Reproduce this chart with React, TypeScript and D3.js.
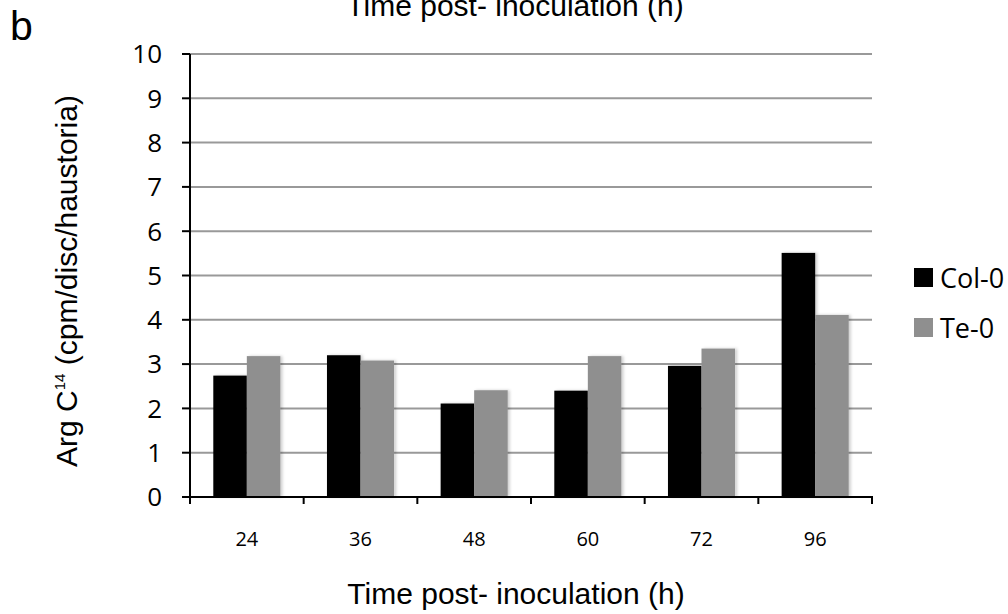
import React from 'react';
import * as d3 from 'd3';

// hours post-inoculation
const categories = ['24', '36', '48', '60', '72', '96'];
const seriesNames = ['Col-0', 'Te-0'];
const col0 = [2.74, 3.2, 2.11, 2.4, 2.96, 5.51];
const te0 = [3.18, 3.08, 2.41, 3.18, 3.35, 4.11];
const yTicks = [0, 1, 2, 3, 4, 5, 6, 7, 8, 9, 10];
const colors = ['#000000', '#8f8f8f'];

const width = 1008;
const height = 614;
const margin = { left: 190, right: 136, top: 54, bottom: 117 };

export default function App() {
  const innerW = width - margin.left - margin.right;
  const y = d3.scaleLinear().domain([0, 10]).range([height - margin.bottom, margin.top]);
  const x0 = d3.scaleBand()
    .domain(categories)
    .range([margin.left, margin.left + innerW])
    .paddingInner(0.41)
    .paddingOuter(0.205);
  const x1 = d3.scaleBand().domain(seriesNames).range([0, x0.bandwidth()]);
  const series = [col0, te0];
  const step = x0.step();
  const bounds = d3.range(categories.length + 1).map(i => margin.left + i * step);
  const baseY = y(0);
  const sans = "'Liberation Sans', Arial, sans-serif";
  const calib = "'Open Sans', sans-serif";

  return (
    <div style={{ position: 'fixed', left: 0, top: 0 }}>
      <svg width={width} height={height} style={{ display: 'block', background: '#fff' }}>
        <defs>
          <filter id="shadow" x="-20%" y="-5%" width="140%" height="110%">
            <feDropShadow dx="2" dy="0" stdDeviation="1.5" floodColor="#000" floodOpacity="0.2" />
          </filter>
        </defs>

        <text x={515} y={16} fontFamily={sans} fontSize={30} textAnchor="middle">Time post- inoculation (h)</text>
        <text x={10} y={40} fontFamily={sans} fontSize={41}>b</text>

        {/* gridlines */}
        {yTicks.filter(t => t > 0).map(t => (
          <line key={t} x1={margin.left} x2={margin.left + innerW} y1={y(t)} y2={y(t)} stroke="#999" strokeWidth={2} />
        ))}

        {/* bars */}
        {categories.map((c, i) => (
          <g key={c} transform={`translate(${x0(c)},0)`}>
            {seriesNames.map((s, j) => (
              <rect key={s} x={x1(s)} y={y(series[j][i])} width={x1.bandwidth()} height={baseY - y(series[j][i])}
                fill={colors[j]} filter="url(#shadow)" />
            ))}
          </g>
        ))}

        {/* y axis */}
        <line x1={margin.left} x2={margin.left} y1={y(10)} y2={baseY + 1} stroke="#000" strokeWidth={2} />
        {yTicks.map(t => (
          <g key={t}>
            <line x1={margin.left - 8} x2={margin.left} y1={y(t)} y2={y(t)} stroke="#000" strokeWidth={2} />
            <text x={162} y={y(t)} dy="0.36em" fontFamily={calib} fontSize={26} textAnchor="end">{t}</text>
          </g>
        ))}

        {/* x axis */}
        <line x1={margin.left - 8} x2={margin.left + innerW + 1} y1={baseY} y2={baseY} stroke="#000" strokeWidth={2} />
        {bounds.map((b, i) => (
          <line key={i} x1={b} x2={b} y1={baseY} y2={baseY + 7} stroke="#000" strokeWidth={2} />
        ))}
        {categories.map(c => (
          <text key={c} x={x0(c)! + x0.bandwidth() / 2} y={546} fontFamily={calib} fontSize={20} textAnchor="middle">{c}</text>
        ))}

        <text x={516} y={604} fontFamily={sans} fontSize={30} textAnchor="middle">Time post- inoculation (h)</text>

        <text transform={`translate(77,281) rotate(-90)`} fontFamily={sans} fontSize={30} textAnchor="middle">
          Arg C<tspan fontSize={15} dy={-12}>14</tspan><tspan dy={12}> (cpm/disc/haustoria)</tspan>
        </text>

        {/* legend */}
        {seriesNames.map((s, j) => (
          <g key={s} transform={`translate(914,${268 + j * 50})`}>
            <rect width={19} height={19} fill={colors[j]} />
            <text x={26} y={10} dy="0.36em" fontFamily={calib} fontSize={27}>{s}</text>
          </g>
        ))}
      </svg>
    </div>
  );
}
